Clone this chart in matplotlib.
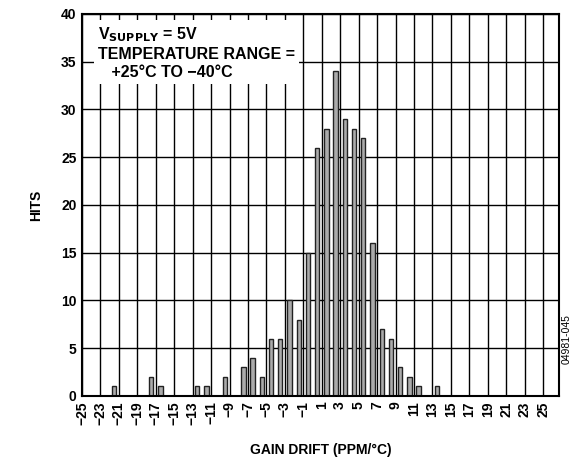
import matplotlib
matplotlib.use('Agg')
import matplotlib.pyplot as plt

# dados do histograma (centro do bin, numero de hits)
drift = [-21.5, -17.5, -16.5, -12.5, -11.5, -9.5, -7.5, -6.5, -5.5, -4.5, -3.5,
         -2.5, -1.5, -0.5, 0.5, 1.5, 2.5, 3.5, 4.5, 5.5, 6.5, 7.5, 8.5, 9.5,
         10.5, 11.5, 13.5]
hits = [1, 2, 1, 1, 1, 2, 3, 4, 2, 6, 6,
        10, 8, 15, 26, 28, 34, 29, 28, 27, 16, 7, 6, 3,
        2, 1, 1]
xticks = list(range(-25, 26, 2))
yticks = list(range(0, 41, 5))

plt.rcParams['font.family'] = ['Liberation Sans', 'DejaVu Sans']
plt.rcParams['font.weight'] = 'bold'

fig = plt.figure(figsize=(5.76, 4.65), dpi=100)
ax = fig.add_axes([0.1424, 0.1484, 0.8276, 0.8216])

ax.bar(drift, hits, width=0.47, color='#ababab', edgecolor='#222222',
       linewidth=1.0, zorder=3)

ax.set_xlim(-25, 26.7)
ax.set_ylim(0, 40)
ax.set_xticks(xticks)
ax.set_xticklabels([str(t).replace('-', '\u2212') for t in xticks],
                   rotation=90, fontsize=10, fontweight='bold')
ax.set_yticks(yticks)
ax.set_yticklabels([str(t) for t in yticks], fontsize=10, fontweight='bold')
ax.tick_params(length=0, pad=4)
ax.grid(True, color='black', linewidth=1.0, zorder=1)
for s in ax.spines.values():
    s.set_linewidth(1.5)
    s.set_zorder(5)

ax.set_xlabel('GAIN DRIFT (PPM/°C)', fontsize=10, fontweight='bold', labelpad=13)
ax.set_ylabel('HITS', fontsize=10, fontweight='bold', labelpad=13)

# caixa de texto com as condicoes
ax.text(-23.3, 38.8,
        'V$_{\\mathbf{SUPPLY}}$ = 5V\nTEMPERATURE RANGE =\n   +25°C TO \u221240°C',
        fontsize=11.5, fontweight='bold', va='top', ha='left', linespacing=1.25,
        zorder=6,
        bbox=dict(facecolor='white', edgecolor='none', pad=3))

fig.text(0.983, 0.27, '04981-045', rotation=90, fontsize=7.5,
         fontweight='normal', ha='center', va='center')

fig.savefig('out.png', dpi=100)
